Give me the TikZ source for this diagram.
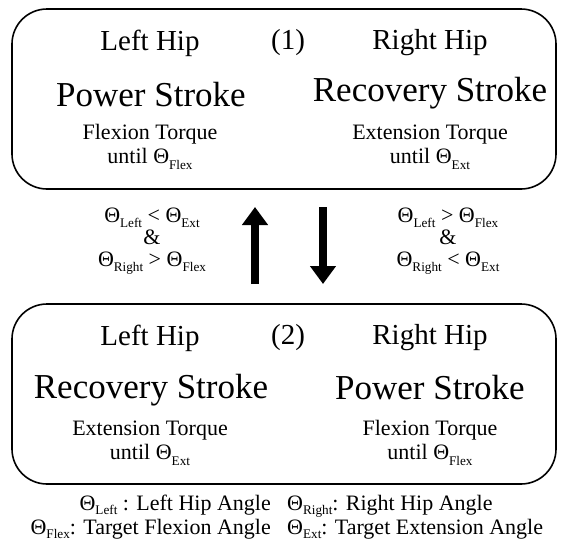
\documentclass[tikz,border=0pt]{standalone}
\usepackage{fontspec}
\setmainfont{Liberation Serif}
\usepackage{graphicx}
\usetikzlibrary{arrows.meta}

\newcommand{\ang}[2][0.55ex]{Θ\raisebox{-#1}{\scalebox{0.6}{#2}}}

\tikzset{
  stagebox/.style={draw, line width=1.6pt, rounded corners=35pt, minimum width=544pt, minimum height=180pt},
  hiptext/.style={font=\fontsize{29}{34}\selectfont},
  stroketext/.style={font=\fontsize{35}{40}\selectfont},
  torquetext/.style={font=\fontsize{22}{24}\selectfont, align=center},
  condtext/.style={font=\fontsize{22}{22}\selectfont, align=center},
  legendtext/.style={font=\fontsize{22}{24}\selectfont, inner sep=1pt},
  bigarrow/.style={line width=8pt, -{Triangle[width=25pt,length=18pt]}}
}

\begin{document}
\begin{tikzpicture}[x=1pt, y=-1pt]
    \useasboundingbox (0,0) rectangle (566,542);

%draw the two stage boxes
    \node[stagebox] (stage1) at (284,99) {};
    \node[stagebox] (stage2) at (284,394) {};

%stage (1)
    \node[hiptext] (left1) at (150,43) {Left Hip};
    \node[hiptext] (num1) at (288,43) {(1)};
    \node[hiptext] (right1) at (430,43) {Right Hip};
    \node[stroketext] (power1) at (151,95) {Power Stroke};
    \node[stroketext] (recov1) at (430,93) {Recovery Stroke};
    \node[torquetext] (flex1) at (150,147) {Flexion Torque\\until \ang{Flex}};
    \node[torquetext] (ext1) at (430,147) {Extension Torque\\until \ang{Ext}};

%stage (2)
    \node[hiptext] (left2) at (150,338) {Left Hip};
    \node[hiptext] (num2) at (288,338) {(2)};
    \node[hiptext] (right2) at (430,338) {Right Hip};
    \node[stroketext] (recov2) at (151,390) {Recovery Stroke};
    \node[stroketext] (power2) at (430,388) {Power Stroke};
    \node[torquetext] (ext2) at (150,443) {Extension Torque\\until \ang{Ext}};
    \node[torquetext] (flex2) at (430,443) {Flexion Torque\\until \ang{Flex}};

%switching conditions and arrows
    \node[condtext] (cond12) at (152,241) {\ang{Left} < \ang{Ext}\\\&\\\ang{Right} > \ang{Flex}};
    \node[condtext] (cond21) at (448,241) {\ang{Left} > \ang{Flex}\\\&\\\ang{Right} < \ang{Ext}};
    \coordinate (uptail) at (255,284);
    \coordinate (uptip) at (255,207);
    \coordinate (downtail) at (323,207);
    \coordinate (downtip) at (323,284);
    \draw[bigarrow] (uptail) -- (uptip);
    \draw[bigarrow] (downtail) -- (downtip);

%legend
    \node[legendtext, anchor=east, align=right] (legleft) at (272,517) {\ang[0.4ex]{Left} : Left Hip Angle\\\ang[0.4ex]{Flex}: Target Flexion Angle};
    \node[legendtext, anchor=west, align=left] (legright) at (286,517) {\ang[0.4ex]{Right}: Right Hip Angle\\\ang[0.4ex]{Ext}: Target Extension Angle};

\end{tikzpicture}
\end{document}
